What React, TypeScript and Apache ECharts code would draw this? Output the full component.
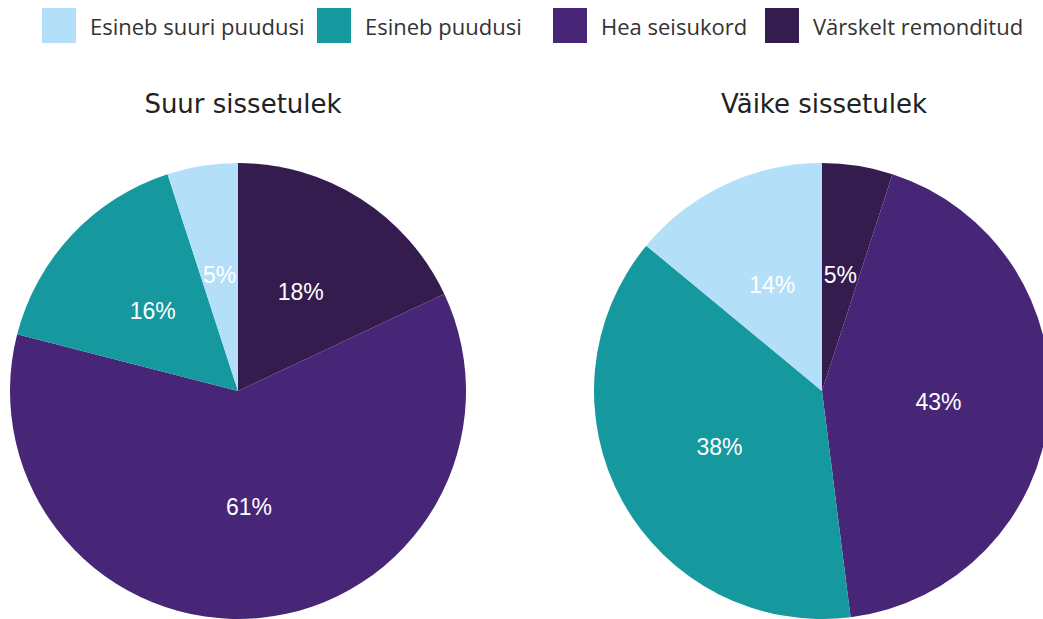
import React, { useEffect, useRef } from "react";
import * as echarts from "echarts";

const legendOrder = ["Esineb suuri puudusi", "Esineb puudusi", "Hea seisukord", "Värskelt remonditud"];
// clockwise order from 12 o'clock
const sliceOrder = ["Värskelt remonditud", "Hea seisukord", "Esineb puudusi", "Esineb suuri puudusi"];
const suurValues = [18, 61, 16, 5];
const vaikeValues = [5, 43, 38, 14];
const titles = ["Suur sissetulek", "Väike sissetulek"];
const colorMap: Record<string, string> = {
  "Esineb suuri puudusi": "#b3e0f8",
  "Esineb puudusi": "#16999e",
  "Hea seisukord": "#482677",
  "Värskelt remonditud": "#341c4f",
};
const legendLefts = [37, 312, 548, 760];

const LEGEND_FONT = "'Open Sans', 'Noto Sans', sans-serif";
const TITLE_FONT = "'DejaVu Sans', 'Open Sans', sans-serif";

export default function App() {
  const ref = useRef<HTMLDivElement>(null);
  useEffect(() => {
    document.body.style.margin = "0";
    const chart = echarts.init(ref.current!, null, { renderer: "svg" });
    const mk = (vals: number[], cx: number) => ({
      type: "pie",
      center: [cx, 391],
      radius: 228,
      startAngle: 90,
      clockwise: true,
      avoidLabelOverlap: false,
      label: {
        show: true,
        position: "inside",
        formatter: "{c}%",
        color: "#ffffff",
        fontSize: 23,
        fontFamily: "'Liberation Sans', Arial, sans-serif",
      },
      labelLine: { show: false },
      emphasis: { disabled: true },
      itemStyle: { borderWidth: 0 },
      data: sliceOrder.map((n, i) => ({ name: n, value: vals[i], itemStyle: { color: colorMap[n] } })),
    });
    chart.setOption({
      animation: false,
      title: [
        { text: titles[0], left: 238, top: 86, textAlign: "center", textStyle: { fontFamily: TITLE_FONT, fontSize: 26, fontWeight: "normal", color: "#222" } },
        { text: titles[1], left: 819, top: 86, textAlign: "center", textStyle: { fontFamily: TITLE_FONT, fontSize: 26, fontWeight: "normal", color: "#222" } },
      ],
      legend: legendOrder.map((name, i) => ({
        data: [name],
        left: legendLefts[i],
        top: 3,
        itemWidth: 34,
        itemHeight: 35,
        icon: "rect",
        selectedMode: false,
        textStyle: { fontFamily: LEGEND_FONT, fontSize: 22, color: "#333", padding: [0, 0, 0, 9] },
      })),
      series: [mk(suurValues, 238), mk(vaikeValues, 822)],
    });
    return () => chart.dispose();
  }, []);
  return <div ref={ref} style={{ width: 1043, height: 619 }} />;
}
